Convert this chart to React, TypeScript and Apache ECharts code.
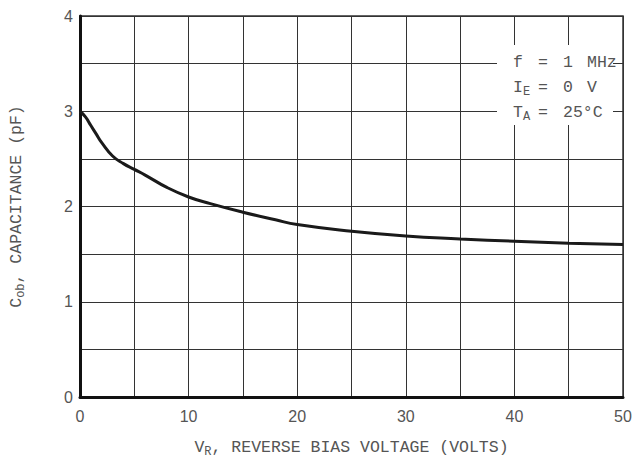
import React, { useEffect, useRef } from "react";
import * as echarts from "echarts";

const voltage = [0, 0.5, 1, 1.5, 2, 3, 4, 5, 6, 8, 10, 12, 15, 18, 20, 25, 30, 35, 40, 45, 50];
const capacitance = [3.0, 2.94, 2.85, 2.76, 2.67, 2.53, 2.45, 2.39, 2.33, 2.2, 2.1, 2.03, 1.94, 1.86, 1.81, 1.74, 1.69, 1.66, 1.635, 1.615, 1.6];
const xTickLabels = ["0", "10", "20", "30", "40", "50"];
const yTickLabels = ["0", "1", "2", "3", "4"];
const noteRows = [
  ["{t|f}", "{t|=}", "{t|1}", "{t|MHz}"],
  ["{t|I}{s|E}", "{t|=}", "{t|0}", "{t|V}"],
  ["{t|T}{s|A}", "{t|=}", "{t|25°C}", ""],
];

const MONO = "'Liberation Mono', 'Courier New', monospace";
const SANS = "'Liberation Sans', Arial, sans-serif";
const TXT = "#555";

export default function App() {
  const ref = useRef<HTMLDivElement>(null);
  useEffect(() => {
    if (!ref.current) return;
    const chart = echarts.init(ref.current, null, { renderer: "svg" });
    const data = voltage.map((v, i) => [v, capacitance[i]]);
    const richFill = {
      t: { fontFamily: MONO, fontSize: 16.5, fill: TXT },
      s: { fontFamily: MONO, fontSize: 12, fill: TXT, verticalAlign: "bottom", padding: [9, 0, 0, 0] },
    };
    const noteX = [513, 538, 563, 587];
    const noteY = [62, 87, 112];
    const notes: any[] = [];
    noteRows.forEach((row, r) =>
      row.forEach((tok, c) => {
        if (!tok) return;
        notes.push({
          type: "text",
          x: noteX[c],
          y: noteY[r],
          z: 11,
          style: { text: tok, rich: richFill, verticalAlign: "middle" },
        });
      })
    );
    chart.setOption({
      animation: false,
      backgroundColor: "#ffffff",
      grid: {
        left: 79,
        right: 16,
        top: 16,
        bottom: 59,
        show: true,
        borderColor: "#333",
        borderWidth: 1.5,
      },
      xAxis: {
        type: "value",
        min: 0,
        max: 50,
        interval: 5,
        axisLine: { show: true, onZero: false, lineStyle: { color: "#111", width: 3 } },
        axisTick: { show: false },
        splitLine: { show: true, lineStyle: { color: "#333", width: 1 } },
        axisLabel: {
          margin: 11,
          color: TXT,
          fontFamily: SANS,
          fontSize: 16,
          formatter: (v: number) => (xTickLabels.includes(String(v)) ? String(v) : ""),
        },
        name: "{t|V}{s|R}{t|, REVERSE BIAS VOLTAGE (VOLTS)}",
        nameLocation: "middle",
        nameGap: 40,
        nameTextStyle: {
          rich: {
            t: { fontFamily: MONO, fontSize: 16.5, color: TXT },
            s: { fontFamily: MONO, fontSize: 12, color: TXT, verticalAlign: "bottom", padding: [9, 0, 0, 0] },
          },
        },
      },
      yAxis: {
        type: "value",
        min: 0,
        max: 4,
        interval: 0.5,
        axisLine: { show: true, onZero: false, lineStyle: { color: "#111", width: 3 } },
        axisTick: { show: false },
        splitLine: { show: true, lineStyle: { color: "#333", width: 1 } },
        axisLabel: {
          margin: 7,
          color: TXT,
          fontFamily: SANS,
          fontSize: 16,
          formatter: (v: number) => (yTickLabels.includes(String(v)) ? String(v) : ""),
        },
        name: "{t|C}{s|ob}{t|, CAPACITANCE (pF)}",
        nameLocation: "middle",
        nameGap: 53,
        nameTextStyle: {
          rich: {
            t: { fontFamily: MONO, fontSize: 16.5, color: TXT },
            s: { fontFamily: MONO, fontSize: 12, color: TXT, verticalAlign: "bottom", padding: [9, 0, 0, 0] },
          },
        },
      },
      graphic: [
        {
          type: "rect",
          x: 497,
          y: 45,
          shape: { width: 116, height: 80 },
          style: { fill: "#fff" },
          z: 10,
        },
        ...notes,
      ],
      series: [
        {
          type: "line",
          data,
          smooth: true,
          showSymbol: false,
          lineStyle: { color: "#1a1a1a", width: 3 },
          z: 5,
        },
      ],
    });
    return () => chart.dispose();
  }, []);
  return (
    <div
      ref={ref}
      style={{ position: "fixed", left: 0, top: 0, width: 639, height: 463, background: "#fff" }}
    />
  );
}
